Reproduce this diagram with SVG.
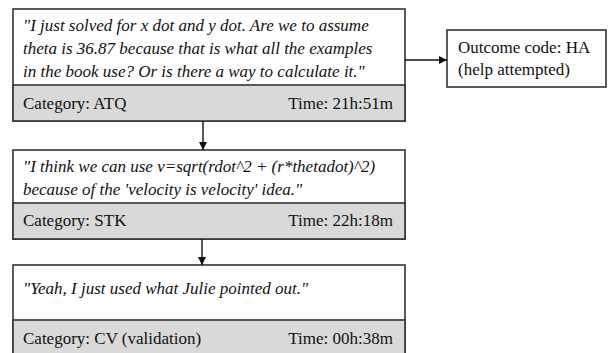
<svg xmlns="http://www.w3.org/2000/svg" width="610" height="353" viewBox="0 0 610 353">
<defs>
<style>
.box{fill:#fff;stroke:#333;stroke-width:1.6}
.band{fill:#d9d9d9;stroke:#333;stroke-width:1.6}
.q{font-family:"Liberation Serif",serif;font-style:italic;font-size:17px;fill:#111}
.t{font-family:"Liberation Serif",serif;font-size:17px;fill:#111}
.c{stroke:#111;stroke-width:1.4;fill:none}
</style>
<marker id="ah" markerWidth="8" markerHeight="8" refX="8" refY="4" orient="auto" markerUnits="userSpaceOnUse">
<path d="M0,0 L8,4 L0,8 Z" fill="#111"/>
</marker>
</defs>
<g id="node1">
<rect class="box" x="13" y="9" width="392" height="112"/>
<rect class="band" x="13" y="85" width="392" height="36"/>
<text class="q" x="23" y="31">"I just solved for x dot and y dot. Are we to assume</text>
<text class="q" x="23" y="54">theta is 36.87 because that is what all the examples</text>
<text class="q" x="23" y="77">in the book use? Or is there a way to calculate it."</text>
<text class="t" x="23" y="109">Category: ATQ</text>
<text class="t" x="393" y="109" text-anchor="end">Time: 21h:51m</text>
</g>
<g id="node2">
<rect class="box" x="13" y="150" width="392" height="89"/>
<rect class="band" x="13" y="203" width="392" height="36"/>
<text class="q" x="23" y="172">"I think we can use v=sqrt(rdot^2 + (r*thetadot)^2)</text>
<text class="q" x="23" y="195">because of the 'velocity is velocity' idea."</text>
<text class="t" x="23" y="226">Category: STK</text>
<text class="t" x="393" y="226" text-anchor="end">Time: 22h:18m</text>
</g>
<g id="node3">
<rect class="box" x="13" y="265" width="392" height="100"/>
<rect class="band" x="13" y="320" width="392" height="45"/>
<text class="q" x="23" y="294">"Yeah, I just used what Julie pointed out."</text>
<text class="t" x="23" y="344">Category: CV (validation)</text>
<text class="t" x="393" y="344" text-anchor="end">Time: 00h:38m</text>
</g>
<g id="outcome">
<rect class="box" x="447" y="30" width="159" height="57"/>
<text class="t" x="458" y="53">Outcome code: HA</text>
<text class="t" x="458" y="75">(help attempted)</text>
</g>
<g id="connectors">
<line class="c" x1="203" y1="121" x2="203" y2="150" marker-end="url(#ah)"/>
<line class="c" x1="202" y1="239" x2="202" y2="265" marker-end="url(#ah)"/>
<line class="c" x1="405" y1="60" x2="447" y2="60" marker-end="url(#ah)"/>
</g>
</svg>
